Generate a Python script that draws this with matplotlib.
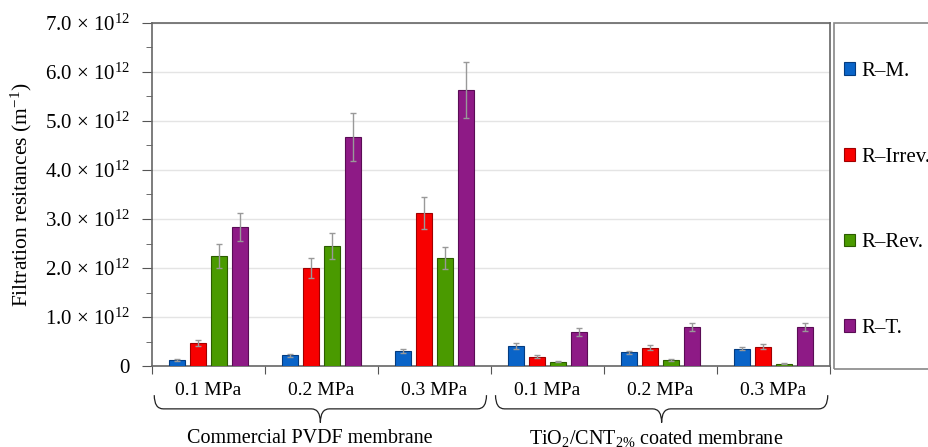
import numpy as np
import matplotlib.pyplot as plt
import matplotlib.transforms as mtransforms
from matplotlib.path import Path
from matplotlib.patches import PathPatch, Rectangle

plt.rcParams['font.family'] = ['Liberation Serif', 'DejaVu Serif']
plt.rcParams['mathtext.fontset'] = 'custom'
plt.rcParams['mathtext.rm'] = 'Liberation Serif'
plt.rcParams['mathtext.it'] = 'Liberation Serif:italic'

# pressure groups (two membranes x three pressures)
pressures = ['0.1 MPa', '0.2 MPa', '0.3 MPa', '0.1 MPa', '0.2 MPa', '0.3 MPa']
membranes = ['Commercial PVDF membrane', 'TiO$_2$/CNT$_{2\\%}$ coated membrane']
series = ['R\u2013M.', 'R\u2013Irrev.', 'R\u2013Rev.', 'R\u2013T.']

# values in units of 1e12 m^-1
r_m = [0.12, 0.22, 0.30, 0.41, 0.28, 0.35]
r_irrev = [0.47, 2.00, 3.12, 0.19, 0.37, 0.39]
r_rev = [2.24, 2.45, 2.20, 0.09, 0.13, 0.05]
r_t = [2.84, 4.67, 5.63, 0.70, 0.80, 0.80]

err_m = [0.02, 0.03, 0.04, 0.06, 0.03, 0.03]
err_irrev = [0.06, 0.20, 0.33, 0.03, 0.05, 0.05]
err_rev = [0.25, 0.26, 0.23, 0.01, 0.02, 0.01]
err_t = [0.28, 0.49, 0.57, 0.08, 0.08, 0.08]

colors = ['#0a64c8', '#f80000', '#4a9a00', '#8e1a86']
edges = ['#043c80', '#a00000', '#2c5c00', '#5a0c55']

fig = plt.figure(figsize=(9.29, 4.47), dpi=100)
ax = fig.add_axes([152 / 929, 1 - 366 / 447, 678 / 929, 343 / 447])

x = np.arange(len(pressures))
step = 0.186
width = 0.142
vals = [r_m, r_irrev, r_rev, r_t]
errs = [err_m, err_irrev, err_rev, err_t]
for i in range(4):
    ax.bar(x + (i - 1.5) * step, np.array(vals[i]) * 1e12, width,
           yerr=np.array(errs[i]) * 1e12, color=colors[i], edgecolor=edges[i],
           linewidth=0.8, label=series[i], zorder=3,
           error_kw=dict(ecolor='#999999', elinewidth=1, capsize=2.5, capthick=1, zorder=4))

ax.set_xlim(-0.5, 5.5)
ax.set_ylim(0, 7e12)
yt = np.arange(0, 8) * 1e12
ax.set_yticks(yt)
ax.set_yticks(np.arange(0, 7.5, 0.5) * 1e12, minor=True)
ax.set_yticklabels(['0'] + ['%.1f $\\times$ 10$^{12}$' % v for v in range(1, 8)], fontsize=15)
ax.yaxis.grid(True, color='#e4e4e4', linewidth=1, zorder=0)
ax.set_axisbelow(True)
ax.tick_params(axis='y', which='major', length=7, color='#555555', pad=9)
ax.tick_params(axis='y', which='minor', length=4, color='#555555')

ax.set_xticks(np.arange(-0.5, 6, 1))
ax.set_xticklabels([])
ax.tick_params(axis='x', length=6, color='#555555')
trans = mtransforms.blended_transform_factory(ax.transData, ax.transAxes)
for xi, p in zip(x, pressures):
    ax.text(xi, -0.07, p, transform=trans, ha='center', va='center', fontsize=14)

for s in ax.spines.values():
    s.set_color('#666666')
    s.set_linewidth(1.2)

ax.set_ylabel('Filtration resitances (m$^{-1}$)', fontsize=15.5, labelpad=8)

# curly braces under the two membrane groups
def brace(x0, x1, top=-0.085, mid=-0.125, tip=-0.165):
    xc = (x0 + x1) / 2
    d = 0.08
    verts = [(x0, top), (x0, mid), (x0 + d, mid), (x0 + d, mid),
             (xc - d, mid), (xc, mid), (xc, tip),
             (xc, mid), (xc + d, mid), (x1 - d, mid),
             (x1, mid), (x1, top)]
    codes = [Path.MOVETO, Path.CURVE3, Path.CURVE3, Path.LINETO,
             Path.LINETO, Path.CURVE3, Path.CURVE3,
             Path.CURVE3, Path.CURVE3, Path.LINETO,
             Path.CURVE3, Path.CURVE3]
    ax.add_patch(PathPatch(Path(verts, codes), transform=trans, fill=False,
                           edgecolor='#222222', linewidth=0.9, clip_on=False))

brace(-0.48, 2.46)
brace(2.54, 5.48)
ax.text(0.90, -0.21, membranes[0], transform=trans, ha='center', va='center', fontsize=14.5)
ax.text(3.96, -0.21, membranes[1], transform=trans, ha='center', va='center', fontsize=14.5)

# legend box to the right of the plot
fig.patches.append(Rectangle((834 / 929, 1 - 369 / 447), 120 / 929, 346 / 447,
                             transform=fig.transFigure, fill=False,
                             edgecolor='#888888', linewidth=1.2))
leg = fig.legend(loc='upper left', bbox_to_anchor=(844 / 929, 1 - 62 / 447), borderaxespad=0,
                 fontsize=15, handlelength=0.55, handleheight=0.55, handletextpad=0.3,
                 labelspacing=3.2, borderpad=0, frameon=False)

fig.savefig('out.png', dpi=100)
